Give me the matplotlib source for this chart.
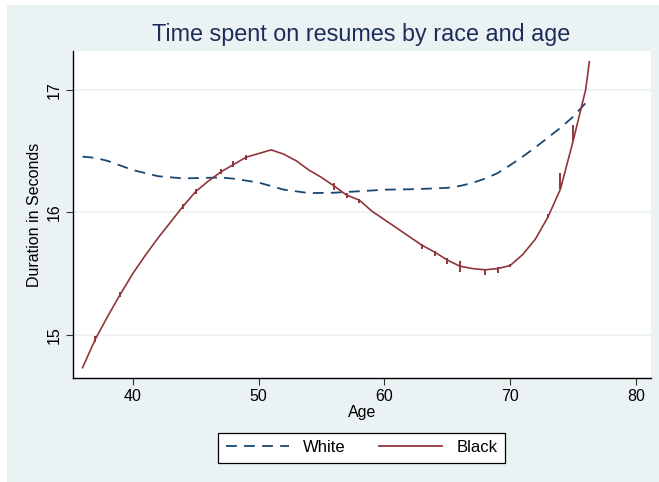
import matplotlib
matplotlib.use("Agg")
import matplotlib.pyplot as plt
from matplotlib.lines import Line2D
from matplotlib.patches import Rectangle

plt.rcParams['font.family'] = ['Liberation Sans', 'DejaVu Sans']

title = "Time spent on resumes by race and age"
xlabel = "Age"
ylabel = "Duration in Seconds"
xticks = [40, 50, 60, 70, 80]
yticks = [15, 16, 17]

white_age = [36, 37, 38, 40, 42, 44, 46, 47, 48, 50, 52, 54, 56, 58, 59, 60, 62, 64, 65,
             66, 67, 68, 69, 70, 71, 72, 73, 74, 75, 76.2]
white_val = [16.455, 16.445, 16.42, 16.345, 16.295, 16.277, 16.282, 16.284, 16.275, 16.243,
             16.185, 16.157, 16.16, 16.172, 16.178, 16.185, 16.188, 16.195, 16.2,
             16.215, 16.24, 16.275, 16.32, 16.385, 16.455, 16.53, 16.61, 16.69, 16.78, 16.915]

black_age = [36, 37, 38, 39, 40, 41, 42, 43, 44, 45, 46, 47, 48, 49, 50, 51, 52, 53, 54, 55,
             56, 57, 58, 59, 60, 61, 62, 63, 64, 65, 66, 67, 68, 69, 70, 71, 72, 73, 74,
             75, 76, 76.3]
black_val = [14.73, 14.96, 15.15, 15.33, 15.50, 15.65, 15.79, 15.92, 16.05, 16.17, 16.255,
             16.33, 16.39, 16.45, 16.48, 16.51, 16.475, 16.42, 16.345, 16.285, 16.215, 16.14,
             16.10, 16.01, 15.94, 15.87, 15.80, 15.73, 15.675, 15.61, 15.56, 15.54, 15.53,
             15.54, 15.565, 15.655, 15.78, 15.96, 16.19, 16.58, 17.0, 17.23]

# short vertical jogs along the Black curve (age, low, high)
jog_age = [37, 39, 44, 45, 47, 48, 49, 56, 57, 58, 63, 64, 65, 66, 68, 69, 70, 73, 74, 75]
jog_lo = [14.94, 15.31, 16.03, 16.15, 16.31, 16.37, 16.43, 16.18, 16.12, 16.08, 15.70,
          15.645, 15.58, 15.51, 15.49, 15.50, 15.55, 15.95, 16.19, 16.58]
jog_hi = [14.99, 15.35, 16.07, 16.19, 16.35, 16.42, 16.47, 16.24, 16.16, 16.11, 15.74,
          15.68, 15.63, 15.60, 15.53, 15.55, 15.58, 15.99, 16.32, 16.71]

navy = '#1A476F'
maroon = '#90353B'
bg = '#EAF2F3'

W, H = 659, 482
fig = plt.figure(figsize=(W / 100, H / 100), dpi=100, facecolor='white')
fig.patches.append(Rectangle((7 / W, 0), 1 - 7 / W + 0.01, 1 - 5 / H, transform=fig.transFigure,
                             facecolor=bg, edgecolor='none', zorder=-10))

ax = fig.add_axes([72.5 / W, 1 - 378 / H, (651 - 72.5) / W, (378 - 51) / H])
ax.set_facecolor('white')
ax.set_xlim(35.2, 81.2)
ax.set_ylim(14.646, 17.318)

for y in yticks:
    ax.axhline(y, color=bg, lw=1.2, zorder=0)

ax.plot(white_age, white_val, color=navy, lw=1.3, linestyle=(0, (6, 4)), zorder=3)
ax.plot(black_age, black_val, color=maroon, lw=1.2, zorder=4)
ax.vlines(jog_age, jog_lo, jog_hi, color=maroon, lw=1.4, zorder=4)

ax.spines['top'].set_visible(False)
ax.spines['right'].set_visible(False)
ax.spines['left'].set_color('black')
ax.spines['bottom'].set_color('black')
ax.spines['left'].set_linewidth(1.0)
ax.spines['bottom'].set_linewidth(1.0)

ax.set_xticks(xticks)
ax.set_yticks(yticks)
ax.set_xticklabels([str(t) for t in xticks], fontsize=11.5)
ax.set_yticklabels([str(t) for t in yticks], fontsize=11.5, rotation=90, va='center')
ax.tick_params(axis='both', direction='out', length=5, width=0.8, color='#333333', pad=3)

ax.set_xlabel(xlabel, fontsize=11.5, labelpad=1)
ax.set_ylabel(ylabel, fontsize=11.5, labelpad=3)

fig.text(361 / W, 1 - 35 / H, title, ha='center', va='center', fontsize=16.8, color='#1E2C5A')

handles = [Line2D([], [], color=navy, lw=1.3, linestyle=(0, (6, 4))),
           Line2D([], [], color=maroon, lw=1.3)]
leg = fig.legend(handles, ['White', 'Black'], loc='center', ncol=2,
                 bbox_to_anchor=(361.5 / W, 1 - 447.5 / H), fontsize=12, frameon=True,
                 fancybox=False, edgecolor='black', facecolor='white', framealpha=1,
                 handlelength=3.8, handletextpad=0.85, columnspacing=2.0,
                 borderpad=0.45, borderaxespad=0)
leg.get_frame().set_linewidth(0.9)

fig.savefig('out.png', dpi=100, facecolor=fig.get_facecolor())
